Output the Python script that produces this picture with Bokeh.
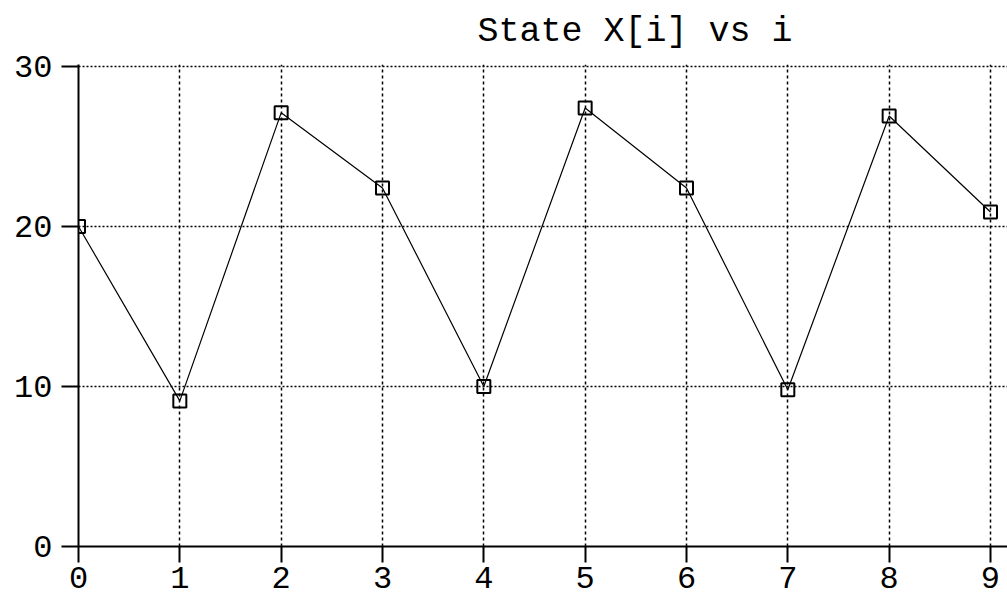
from bokeh.plotting import figure
from bokeh.models import ColumnDataSource, Range1d, FixedTicker
from bokeh.embed import file_html
from bokeh.resources import INLINE

# ---- data ----
idx = [0, 1, 2, 3, 4, 5, 6, 7, 8, 9]
state = [20.0, 9.1, 27.1, 22.4, 10.0, 27.4, 22.4, 9.8, 26.9, 20.9]
x_ticks = [0, 1, 2, 3, 4, 5, 6, 7, 8, 9]
y_ticks = [0, 10, 20, 30]
title_text = "State X[i] vs i"

FONT = "Liberation Mono"

src = ColumnDataSource(data=dict(i=idx, x=state))

p = figure(width=1007, height=596, output_backend="svg", toolbar_location=None,
           x_range=Range1d(0, 9.168), y_range=Range1d(0, 30.12),
           min_border_left=78, min_border_right=0, min_border_top=62,
           min_border_bottom=50)

p.background_fill_color = "white"
p.border_fill_color = "white"
p.outline_line_color = None

# title
p.title.text = title_text
p.title.align = "left"
p.title.vertical_align = "top"
p.title.offset = 399
p.title.standoff = 22
p.title.text_font = FONT
p.title.text_font_size = "35px"
p.title.text_font_style = "normal"
p.title.text_color = "black"

# axes
for ax in (p.xaxis[0], p.yaxis[0]):
    ax.axis_line_color = "black"
    ax.axis_line_width = 2
    ax.major_tick_line_color = "black"
    ax.major_tick_line_width = 2
    ax.major_tick_in = 0
    ax.minor_tick_line_color = None
    ax.major_label_text_font = FONT
    ax.major_label_text_color = "black"
    ax.major_label_text_font_size = "32px"

p.xaxis[0].ticker = FixedTicker(ticks=x_ticks)
p.yaxis[0].ticker = FixedTicker(ticks=y_ticks)
p.xaxis[0].major_tick_out = 16
p.yaxis[0].major_tick_out = 17
p.yaxis[0].major_label_standoff = 9
p.xaxis[0].major_label_standoff = 4

# grid
p.xgrid.grid_line_color = "black"
p.xgrid.grid_line_dash = "3 3"
p.xgrid.grid_line_width = 1.5
p.ygrid.grid_line_color = "black"
p.ygrid.grid_line_dash = "2 2"
p.ygrid.grid_line_width = 1.5

# data
p.line("i", "x", source=src, line_color="black", line_width=1.2)
p.scatter("i", "x", source=src, marker="square", size=13, fill_color=None,
          line_color="black", line_width=2)

open("out.html", "w").write(file_html(p, INLINE))
